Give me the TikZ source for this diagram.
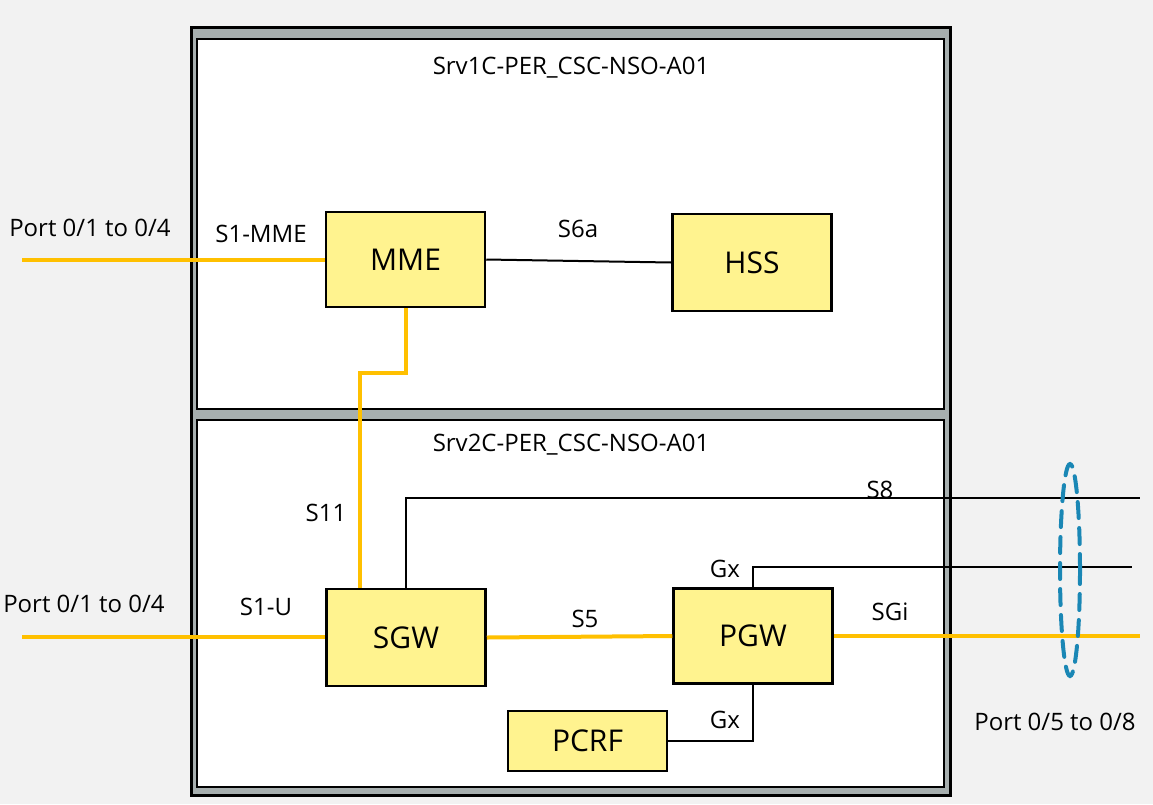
\documentclass[tikz,border=0pt]{standalone}
\usepackage{fontspec}
\setmainfont{Open Sans}
\usetikzlibrary{calc}
\definecolor{bg}{HTML}{F2F2F2}
\definecolor{frame}{HTML}{A7AFAF}
\definecolor{boxfill}{HTML}{FFF38F}
\definecolor{yel}{HTML}{FFC000}
\definecolor{ringblue}{HTML}{1A87B5}
\tikzset{
  nfbox/.style={draw=black, line width=2.5pt, fill=boxfill, minimum width=159pt, minimum height=95pt, inner sep=0pt, font=\fontsize{30}{34}\selectfont},
  lbl/.style={font=\fontsize{24}{28}\selectfont, inner sep=0pt},
  ylink/.style={draw=yel, line width=4pt},
  blink/.style={draw=black, line width=2pt},
  panel/.style={draw=black, line width=2pt, fill=white},
}
\begin{document}
\begin{tikzpicture}[x=1pt,y=-1pt]
\useasboundingbox (0,0) rectangle (1153,804);
\fill[bg] (0,0) rectangle (1153,804);
% outer frame
\draw[black, line width=3pt, fill=frame] (191,27) rectangle (950,795);
\draw[panel] (197,39) rectangle (944,409);
\draw[panel] (197,420) rectangle (944,787);
\node[lbl] (t1) at (571,68) {Srv1C-PER\_CSC-NSO-A01};
\node[lbl] (t2) at (571,445) {Srv2C-PER\_CSC-NSO-A01};
% boxes
\node[nfbox] (MME) at (405.5,259.5) {MME};
\node[nfbox, minimum height=97pt] (HSS) at (752,262.5) {HSS};
\node[nfbox, minimum height=97pt] (SGW) at (406,637.5) {SGW};
\node[nfbox] (PGW) at (753,636) {PGW};
\node[nfbox, minimum height=60pt] (PCRF) at (587.5,741) {PCRF};
% coordinates
\coordinate (p1) at (22,260);
\coordinate (p2) at (22,637);
\coordinate (s11) at (360,373);
\coordinate (s8end) at (1140,498);
\coordinate (gxend) at (1132,567);
\coordinate (sgiend) at (1140,636);
% links
\draw[ylink] (p1) -- (p1 -| MME.west);
\draw[blink] (MME.east) -- (HSS.west);
\draw[ylink] (MME.south) |- (s11) -- (s11 |- SGW.north);
\draw[blink] (SGW.north) |- (s8end);
\draw[blink] (PGW.north) |- (gxend);
\draw[ylink] (SGW.east) -- (PGW.west);
\draw[ylink] (PGW.east) -- (sgiend);
\draw[ylink] (p2) -- (p2 -| SGW.west);
\draw[blink] (PGW.south) |- (PCRF.east);
% ring
\draw[ringblue, line width=4pt, dashed, dash pattern=on 16pt off 10pt, line cap=round] (1070,570) ellipse [x radius=10pt, y radius=106pt];
% labels
\node[lbl] (lp1) at (90,228) {Port 0/1 to 0/4};
\node[lbl] (ls1mme) at (261,234) {S1-MME};
\node[lbl] (ls6a) at (578,229) {S6a};
\node[lbl] (ls11) at (326,513) {S11};
\node[lbl] (ls8) at (880,490) {S8};
\node[lbl] (lgx1) at (725,569) {Gx};
\node[lbl] (lp2) at (84,604) {Port 0/1 to 0/4};
\node[lbl] (ls1u) at (266,607) {S1-U};
\node[lbl] (ls5) at (585,619) {S5};
\node[lbl] (lsgi) at (890,612) {SGi};
\node[lbl] (lgx2) at (725,720) {Gx};
\node[lbl] (lp3) at (1055,722) {Port 0/5 to 0/8};
\end{tikzpicture}
\end{document}
